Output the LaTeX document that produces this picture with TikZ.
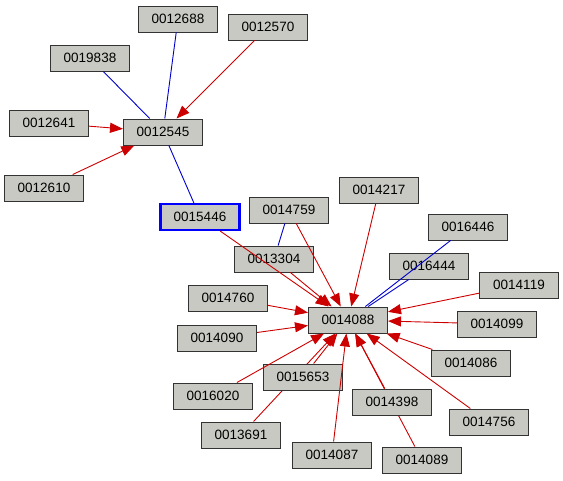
\documentclass[tikz,border=0pt]{standalone}
\usepackage{fontspec}
\setmainfont{Liberation Sans}
\usepackage{tikz}
\usetikzlibrary{arrows.meta,backgrounds}
\definecolor{boxfill}{HTML}{C8C9C3}
\definecolor{boxline}{HTML}{333333}
\definecolor{citered}{HTML}{CC0000}
\definecolor{linkblue}{HTML}{0000CC}

\begin{document}
\begin{tikzpicture}[x=1pt,y=-1pt,
 every node/.style={font=\fontsize{13.5}{15}\selectfont},
 box/.style={draw=boxline,line width=1pt,fill=boxfill,minimum width=79pt,minimum height=26pt,inner sep=0pt},
 sel/.style={box,draw=blue,line width=2.2pt},
 arr/.style={-{Triangle[length=13pt,width=10pt]},draw=citered,line width=.9pt},
 lnk/.style={draw=linkblue,line width=.9pt}]
 \useasboundingbox (0,0) rectangle (563,480);
 % upper cluster
 \node[box] (n12688) at (178,19) {0012688};
 \node[box] (n12570) at (268,27) {0012570};
 \node[box] (n19838) at (90,58) {0019838};
 \node[box] (n12641) at (49,123) {0012641};
 \node[box] (n12545) at (163,132) {0012545};
 \node[box] (n12610) at (44,188) {0012610};
 \node[sel] (n15446) at (200,217) {0015446};
 % lower cluster
 \node[box] (n14759) at (289,210) {0014759};
 \node[box] (n14217) at (379,190) {0014217};
 \node[box] (n16446) at (468,227) {0016446};
 \node[box] (n13304) at (274,259) {0013304};
 \node[box] (n16444) at (429,266) {0016444};
 \node[box] (n14119) at (519,285) {0014119};
 \node[box] (n14760) at (228,298) {0014760};
 \node[box] (n14088) at (348,320) {0014088};
 \node[box] (n14099) at (497,324) {0014099};
 \node[box] (n14090) at (217,338) {0014090};
 \node[box] (n14086) at (471,363) {0014086};
 \node[box] (n15653) at (303,377) {0015653};
 \node[box] (n16020) at (213,396) {0016020};
 \node[box] (n14398) at (392,402) {0014398};
 \node[box] (n14756) at (489,422) {0014756};
 \node[box] (n13691) at (241,435) {0013691};
 \node[box] (n14087) at (332,455) {0014087};
 \node[box] (n14089) at (422,460) {0014089};
 \begin{scope}[on background layer]
  \draw[arr] (n13691)--(n14088);
  \draw[arr] (n14089)--(n14088);
 \end{scope}
 \draw[lnk] (n19838)--(n12545);
 \draw[lnk] (n12688)--(n12545);
 \draw[lnk] (n12545)--(n15446);
 \draw[arr] (n12570)--(n12545);
 \draw[arr] (n12641)--(n12545);
 \draw[arr] (n12610)--(n12545);
 \draw[lnk] (n14759)--(n13304);
 \draw[lnk] (n16446)--(n14088);
 \draw[lnk] (n16444)--(n14088);
 \draw[arr] (n15446)--(n14088);
 \draw[arr] (n13304)--(n14088);
 \draw[arr] (n14759)--(n14088);
 \draw[arr] (n14217)--(n14088);
 \draw[arr] (n14119)--(n14088);
 \draw[arr] (n14099)--(n14088);
 \draw[arr] (n14086)--(n14088);
 \draw[arr] (n14756)--(n14088);
 \draw[arr] (n14398)--(n14088);
 \draw[arr] (n14087)--(n14088);
 \draw[arr] (n15653)--(n14088);
 \draw[arr] (n16020)--(n14088);
 \draw[arr] (n14090)--(n14088);
 \draw[arr] (n14760)--(n14088);
\end{tikzpicture}
\end{document}
